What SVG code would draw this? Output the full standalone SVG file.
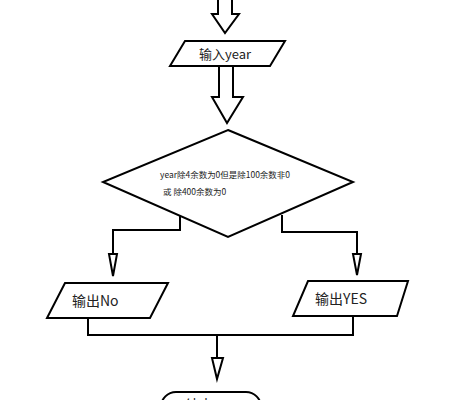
<svg xmlns="http://www.w3.org/2000/svg" width="455" height="400" viewBox="0 0 455 400">
<style>
.s{fill:#fff;stroke:#000;stroke-width:2;stroke-linejoin:miter}
.c{fill:none;stroke:#000;stroke-width:2}
.h{fill:#fff;stroke:#000;stroke-width:2}
.t{font-family:"Noto Sans CJK SC","Noto Sans",sans-serif;fill:#222}
</style>
<rect width="455" height="400" fill="#fff"/>
<g id="connectors">
<path class="s" d="M218,-2 V14 H212 L225,33 L239,14 H232 V-2"/>
<path class="s" d="M219,66 V97 H212 L227,123 L243,97 H233 V66"/>
<path class="c" d="M180,215 V230 H113 V254"/>
<path class="h" d="M109,254 L113,276 L117,254 Z"/>
<path class="c" d="M282,215 V232 H357 V254"/>
<path class="h" d="M353,254 L357,275 L361,254 Z"/>
<path class="c" d="M88,318 V335 H353 V316"/>
<path class="c" d="M217,335 V358"/>
<path class="h" d="M212,358 L217,379 L223,358 Z"/>
</g>
<g id="input">
<polygon class="s" points="185,41 285,41 270,66 170,66"/>
<text class="t" x="225" y="59" font-size="13" text-anchor="middle">输入year</text>
</g>
<g id="decision">
<polygon class="s" points="228,130 353,182 228,237 103,182"/>
<text class="t" x="160" y="178" font-size="8.5" textLength="130" lengthAdjust="spacingAndGlyphs">year除4余数为0但是除100余数非0</text>
<text class="t" x="163" y="195" font-size="8.5">或 除400余数为0</text>
</g>
<g id="outNo">
<polygon class="s" points="65,283 168,283 150,318 47,318"/>
<text class="t" x="72" y="306" font-size="14">输出No</text>
</g>
<g id="outYes">
<polygon class="s" points="308,281 408,281 397,316 293,316"/>
<text class="t" x="315" y="304" font-size="14">输出YES</text>
</g>
<g id="end">
<rect class="s" x="161" y="392" width="100" height="30" rx="15"/>
<text class="t" x="185" y="410" font-size="14">结束</text>
</g>
</svg>
